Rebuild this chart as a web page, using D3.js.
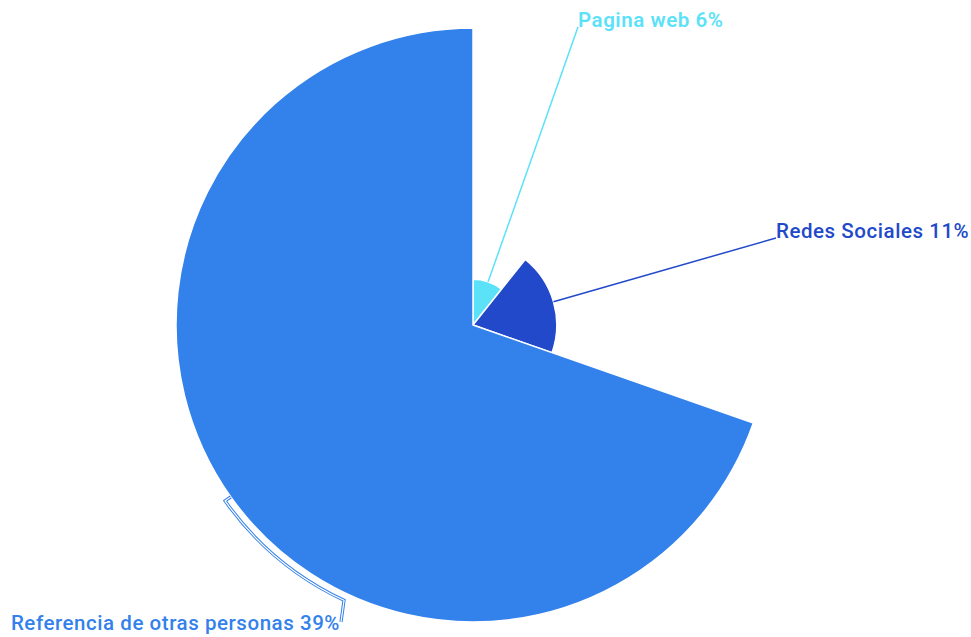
<!DOCTYPE html>
<html>
<head>
<meta charset="utf-8">
<script src="https://cdn.jsdelivr.net/npm/d3@7"></script>
<style>
  html, body { margin: 0; padding: 0; background: #ffffff; }
  svg { display: block; }
  text { font-family: Roboto, "Noto Sans", sans-serif; }
</style>
</head>
<body>
<svg id="chart" width="971" height="637"></svg>
<script>
// Segment data: label, share (%) and colour
const categories = ["Pagina web", "Redes Sociales", "Referencia de otras personas"];
const values = [6, 11, 39];
const colors = ["#5ce2f8", "#2149ca", "#3381eb"];

const width = 971, height = 637;
const cx = 473, cy = 325;
const maxRadius = 297;

const data = categories.map((c, i) => ({ name: c, value: values[i], color: colors[i] }));

const svg = d3.select("#chart");
const g = svg.append("g").attr("transform", `translate(${cx},${cy})`);

// Angle follows each share; radius grows with the value (variable-radius pie)
const pie = d3.pie().sort(null).value(d => d.value).startAngle(0).endAngle(2 * Math.PI);
const rScale = d3.scaleLinear().domain([0, d3.max(values)]).range([0, maxRadius]);
const arcs = pie(data);

const arc = d3.arc()
  .innerRadius(0)
  .outerRadius(d => rScale(d.data.value));

g.selectAll("path.slice")
  .data(arcs)
  .join("path")
  .attr("class", "slice")
  .attr("d", arc)
  .attr("fill", d => d.data.color)
  .attr("stroke", "#ffffff")
  .attr("stroke-width", 1.5)
  .attr("stroke-linejoin", "round");

// Point on the circle at angle a (clockwise from 12 o'clock), radius r
const polar = (a, r) => [r * Math.sin(a), -r * Math.cos(a)];
const mid = d => (d.startAngle + d.endAngle) / 2;

// Label anchors, relative to the centre
const labelPos = [
  { x: 578 - cx, y: 27 - cy, anchor: "start" },
  { x: 776 - cx, y: 238 - cy, anchor: "start" },
  { x: 340 - cx, y: 630 - cy, anchor: "end" }
];

// Straight leaders for the two small slices
arcs.slice(0, 2).forEach((d, i) => {
  const p0 = polar(mid(d), rScale(d.data.value));
  g.append("line")
    .attr("x1", p0[0]).attr("y1", p0[1])
    .attr("x2", labelPos[i].x).attr("y2", labelPos[i].y)
    .attr("stroke", d.data.color)
    .attr("stroke-width", 1.5);
});

// Leader for the large slice: follows the rim, then drops to its label
{
  const d = arcs[2];
  const r = rScale(d.data.value);
  const a0 = mid(d);
  const a1 = 205.1 * Math.PI / 180;
  const rr = r + 7;
  const p0 = polar(a0, r);
  const p1 = polar(a0, rr);
  const p2 = polar(a1, rr);
  const end = [labelPos[2].x + 1, labelPos[2].y - 8];
  const path = `M${p0[0]},${p0[1]}L${p1[0]},${p1[1]}` +
    `A${rr},${rr} 0 0 0 ${p2[0]},${p2[1]}L${end[0]},${end[1]}`;
  g.append("path").attr("d", path).attr("fill", "none")
    .attr("stroke", d.data.color).attr("stroke-width", 3.2);
  g.append("path").attr("d", path).attr("fill", "none")
    .attr("stroke", "#ffffff").attr("stroke-width", 1.2);
}

// Labels
g.selectAll("text.label")
  .data(arcs)
  .join("text")
  .attr("class", "label")
  .attr("x", (d, i) => labelPos[i].x)
  .attr("y", (d, i) => labelPos[i].y)
  .attr("text-anchor", (d, i) => labelPos[i].anchor)
  .attr("fill", d => d.data.color)
  .attr("font-size", 20.5)
  .attr("letter-spacing", 0.55)
  .attr("font-weight", (d, i) => i === 0 ? 600 : 500)
  .text(d => `${d.data.name} ${d.data.value}%`);
</script>
</body>
</html>
